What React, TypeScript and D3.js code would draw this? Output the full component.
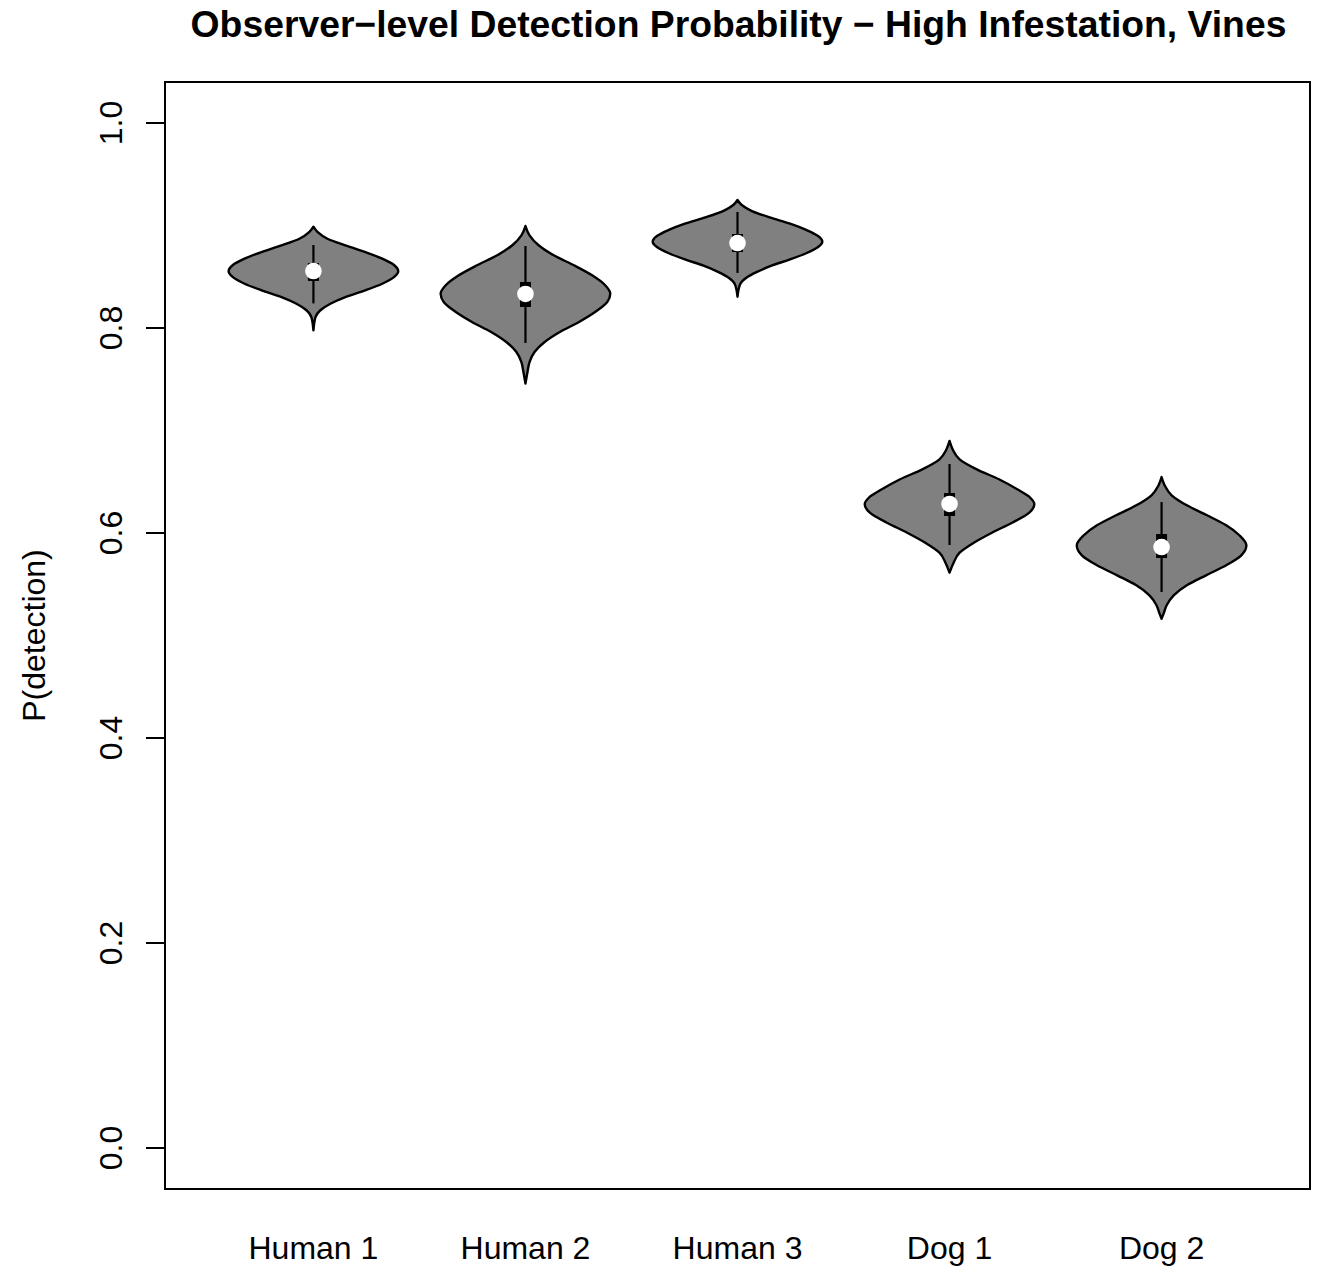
import React from "react";
import * as d3 from "d3";

// Observers along the x axis
const observers = ["Human 1", "Human 2", "Human 3", "Dog 1", "Dog 2"];

// Violin outlines: probability levels (top to bottom) and relative half-widths (0..1)
const h1Levels = [0.8988, 0.8937, 0.8871, 0.8807, 0.8741, 0.8676, 0.8612, 0.8553, 0.8498, 0.8432, 0.8368, 0.8302, 0.8237, 0.8173, 0.8107, 0.7977];
const h1Widths = [0, 0.047, 0.165, 0.376, 0.612, 0.812, 0.953, 1, 0.953, 0.812, 0.612, 0.376, 0.2, 0.082, 0.024, 0];

const h2Levels = [0.8995, 0.8904, 0.8807, 0.8709, 0.8612, 0.8514, 0.8417, 0.8335, 0.8254, 0.8156, 0.8059, 0.7961, 0.7863, 0.7766, 0.7668, 0.7571, 0.7457];
const h2Widths = [0, 0.048, 0.155, 0.333, 0.571, 0.786, 0.94, 1, 0.964, 0.821, 0.631, 0.405, 0.226, 0.107, 0.048, 0.024, 0];

const h3Levels = [0.9249, 0.92, 0.9141, 0.9079, 0.9018, 0.8957, 0.8898, 0.8842, 0.879, 0.8729, 0.8669, 0.8608, 0.8547, 0.8488, 0.8426, 0.8305];
const h3Widths = [0, 0.05, 0.17, 0.38, 0.62, 0.81, 0.95, 1, 0.95, 0.81, 0.62, 0.4, 0.23, 0.1, 0.03, 0];

const d1Levels = [0.6898, 0.6817, 0.6719, 0.6621, 0.6524, 0.6426, 0.6344, 0.628, 0.6198, 0.61, 0.6003, 0.5905, 0.5808, 0.571, 0.5613];
const d1Widths = [0, 0.036, 0.119, 0.321, 0.583, 0.798, 0.952, 1, 0.94, 0.738, 0.5, 0.286, 0.119, 0.048, 0];

const d2Levels = [0.6546, 0.6465, 0.6368, 0.627, 0.6173, 0.6075, 0.5978, 0.588, 0.5782, 0.5685, 0.5587, 0.549, 0.5392, 0.5295, 0.5213, 0.5164];
const d2Widths = [0, 0.036, 0.119, 0.298, 0.536, 0.762, 0.917, 1, 0.94, 0.762, 0.524, 0.298, 0.143, 0.06, 0.024, 0];

const violinLevels = [h1Levels, h2Levels, h3Levels, d1Levels, d2Levels];
const violinWidths = [h1Widths, h2Widths, h3Widths, d1Widths, d2Widths];

// Box summaries per observer
const whiskerLow = [0.824, 0.7854, 0.8537, 0.5883, 0.5424];
const whiskerHigh = [0.881, 0.88, 0.9132, 0.6673, 0.6302];
const q1 = [0.8459, 0.8205, 0.8741, 0.6166, 0.5756];
const q3 = [0.8634, 0.8449, 0.8917, 0.639, 0.599];
const medians = [0.8556, 0.8332, 0.8829, 0.6283, 0.5863];

const yTicks = [0, 0.2, 0.4, 0.6, 0.8, 1.0];

const W = 1324;
const H = 1266;
const plotLeft = 165;
const plotRight = 1310;
const plotTop = 82;
const plotBottom = 1189;
const FONT = "'Liberation Sans', Arial, Helvetica, sans-serif";

export default function App() {
  const x = d3.scaleLinear().domain([0.3, 5.7]).range([plotLeft, plotRight]);
  const y = d3.scaleLinear().domain([-0.04, 1.04]).range([plotBottom, plotTop]);
  const halfWidth = 0.4;

  return (
    <svg
      width={W}
      height={H}
      viewBox={`0 0 ${W} ${H}`}
      style={{ position: "absolute", left: 0, top: 0, background: "#fff" }}
    >
      <rect x={0} y={0} width={W} height={H} fill="#fff" />
      <text
        x={(plotLeft + plotRight) / 2 + 1}
        y={37}
        textAnchor="middle"
        fontFamily={FONT}
        fontWeight="bold"
        fontSize={37.3}
      >
        Observer−level Detection Probability − High Infestation, Vines
      </text>

      {observers.map((name, i) => {
        const c = i + 1;
        const pts = violinLevels[i].map((v, k) => ({ v, w: violinWidths[i][k] }));
        const area = d3
          .area<{ v: number; w: number }>()
          .y((d) => y(d.v))
          .x0((d) => x(c - d.w * halfWidth))
          .x1((d) => x(c + d.w * halfWidth))
          .curve(d3.curveMonotoneY);
        const cx = x(c);
        return (
          <g key={name}>
            <path d={area(pts) || ""} fill="#808080" stroke="#000" strokeWidth={2.4} strokeLinejoin="round" />
            <line x1={cx} x2={cx} y1={y(whiskerLow[i])} y2={y(whiskerHigh[i])} stroke="#000" strokeWidth={2.2} />
            <rect x={cx - 5.5} width={11} y={y(q3[i])} height={y(q1[i]) - y(q3[i])} fill="#000" />
            <circle cx={cx} cy={y(medians[i])} r={8.3} fill="#fff" />
            <text x={cx} y={1259} textAnchor="middle" fontFamily={FONT} fontSize={32}>
              {name}
            </text>
          </g>
        );
      })}

      {yTicks.map((t) => (
        <g key={t}>
          <line x1={plotLeft - 19} x2={plotLeft} y1={y(t)} y2={y(t)} stroke="#000" strokeWidth={2} />
          <text
            transform={`translate(122, ${y(t)}) rotate(-90)`}
            textAnchor="middle"
            fontFamily={FONT}
            fontSize={32}
          >
            {t.toFixed(1)}
          </text>
        </g>
      ))}

      <text
        transform={`translate(45, ${(plotTop + plotBottom) / 2}) rotate(-90)`}
        textAnchor="middle"
        fontFamily={FONT}
        fontSize={32}
      >
        P(detection)
      </text>

      <rect
        x={plotLeft}
        y={plotTop}
        width={plotRight - plotLeft}
        height={plotBottom - plotTop}
        fill="none"
        stroke="#000"
        strokeWidth={2}
      />
    </svg>
  );
}
